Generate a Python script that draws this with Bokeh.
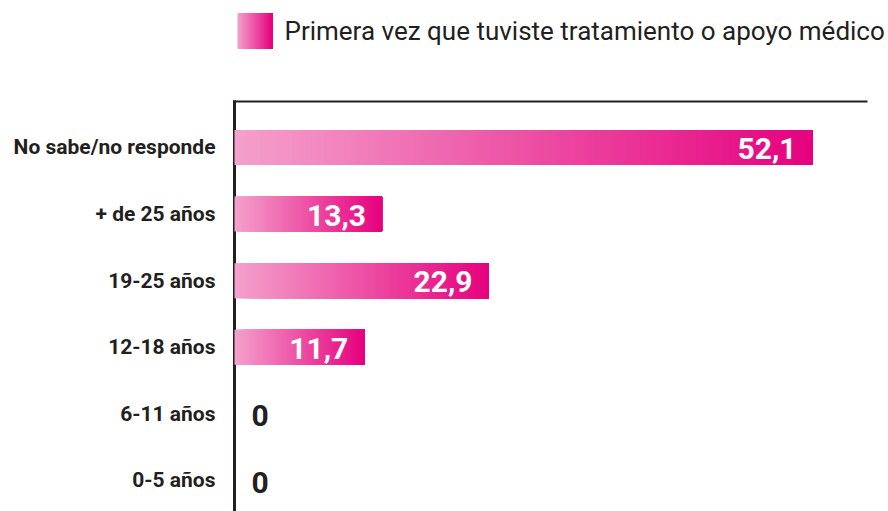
from bokeh.plotting import figure
from bokeh.models import Range1d, FixedTicker
from bokeh.core.properties import value
from bokeh.embed import file_html
from bokeh.resources import INLINE

# ---- data ----
categories = ["0-5 años", "6-11 años", "12-18 años", "19-25 años", "+ de 25 años", "No sabe/no responde"]
values = [0, 0, 11.7, 22.9, 13.3, 52.1]
series_name = "Primera vez que tuviste tratamiento o apoyo médico"

DARK = "#231F20"
C0 = (244, 160, 203)
C1 = (230, 0, 126)
N = 90

def grad(t):
    r = int(round(C0[0] + (C1[0] - C0[0]) * t))
    g = int(round(C0[1] + (C1[1] - C0[1]) * t))
    b = int(round(C0[2] + (C1[2] - C0[2]) * t))
    return "#%02x%02x%02x" % (r, g, b)

PXX = 11.094   # px per x unit
PXY = 66.6     # px per category step
X0 = -5 / PXX
Y0 = -0.4655
FW, FH = 658, 511

p = figure(width=229 + FW, height=FH, output_backend="svg", toolbar_location=None,
           x_range=Range1d(X0, X0 + FW / PXX), y_range=Range1d(Y0, Y0 + FH / PXY),
           x_axis_location=None, min_border=0,
           min_border_left=229, min_border_right=0, min_border_top=0, min_border_bottom=0)
p.outline_line_color = None
p.grid.visible = False

ys = list(range(len(categories)))
top_y = 5.691
right_x = 57.06

# frame lines
p.segment(x0=[0], y0=[Y0 - 1], x1=[0], y1=[top_y + 0.02], line_color=DARK, line_width=3)
p.segment(x0=[0], y0=[top_y], x1=[right_x], y1=[top_y], line_color=DARK, line_width=2)

# gradient bars
bl, br, by, bc = [], [], [], []
for y, v in zip(ys, values):
    if v <= 0:
        continue
    for i in range(N):
        t = i / N
        bl.append(v * t)
        br.append(v)
        by.append(y)
        bc.append(grad(t))
p.hbar(y=by, left=bl, right=br, height=0.525, fill_color=bc, line_color=None)

pos = [(y, v) for y, v in zip(ys, values) if v > 0]
zer = [(y, v) for y, v in zip(ys, values) if v <= 0]
fmt = lambda v: ("%g" % v).replace(".", ",")
p.text(x=[v for _, v in pos], y=[y for y, _ in pos], text=[fmt(v) for _, v in pos],
       text_align="right", text_baseline="middle", x_offset=-16, y_offset=1,
       text_font=value("Roboto"), text_font_style="bold", text_font_size="30px",
       text_color="white")
p.text(x=[v for _, v in zer], y=[y for y, _ in zer], text=[fmt(v) for _, v in zer],
       text_align="left", text_baseline="middle", x_offset=17, y_offset=2,
       text_font=value("Roboto"), text_font_style="bold", text_font_size="30px",
       text_color=DARK)

# legend (gradient square + label)
lg_l, lg_r = 3 / PXX, 38 / PXX
lg_t, lg_b = (480 - 13) / PXY, (480 - 48) / PXY
lx, lc = [], []
for i in range(N):
    t = i / N
    lx.append(lg_l + (lg_r - lg_l) * t)
    lc.append(grad(t))
p.quad(left=lx, right=[lg_r] * N, bottom=[lg_b] * N, top=[lg_t] * N,
       fill_color=lc, line_color=None)
p.text(x=[50 / PXX], y=[(480 - 31) / PXY], text=[series_name], text_font=value("Roboto"),
       text_font_size="26px", text_color=DARK, text_baseline="middle", text_align="left")

ax = p.yaxis[0]
ax.ticker = FixedTicker(ticks=ys)
ax.major_label_overrides = {y: c for y, c in zip(ys, categories)}
ax.major_tick_line_color = None
ax.minor_tick_line_color = None
ax.axis_line_color = None
ax.major_label_standoff = 8
ax.major_label_text_font = "Roboto"
ax.major_label_text_font_style = "bold"
ax.major_label_text_font_size = "21px"
ax.major_label_text_color = DARK

open("out.html", "w").write(file_html(p, INLINE))
